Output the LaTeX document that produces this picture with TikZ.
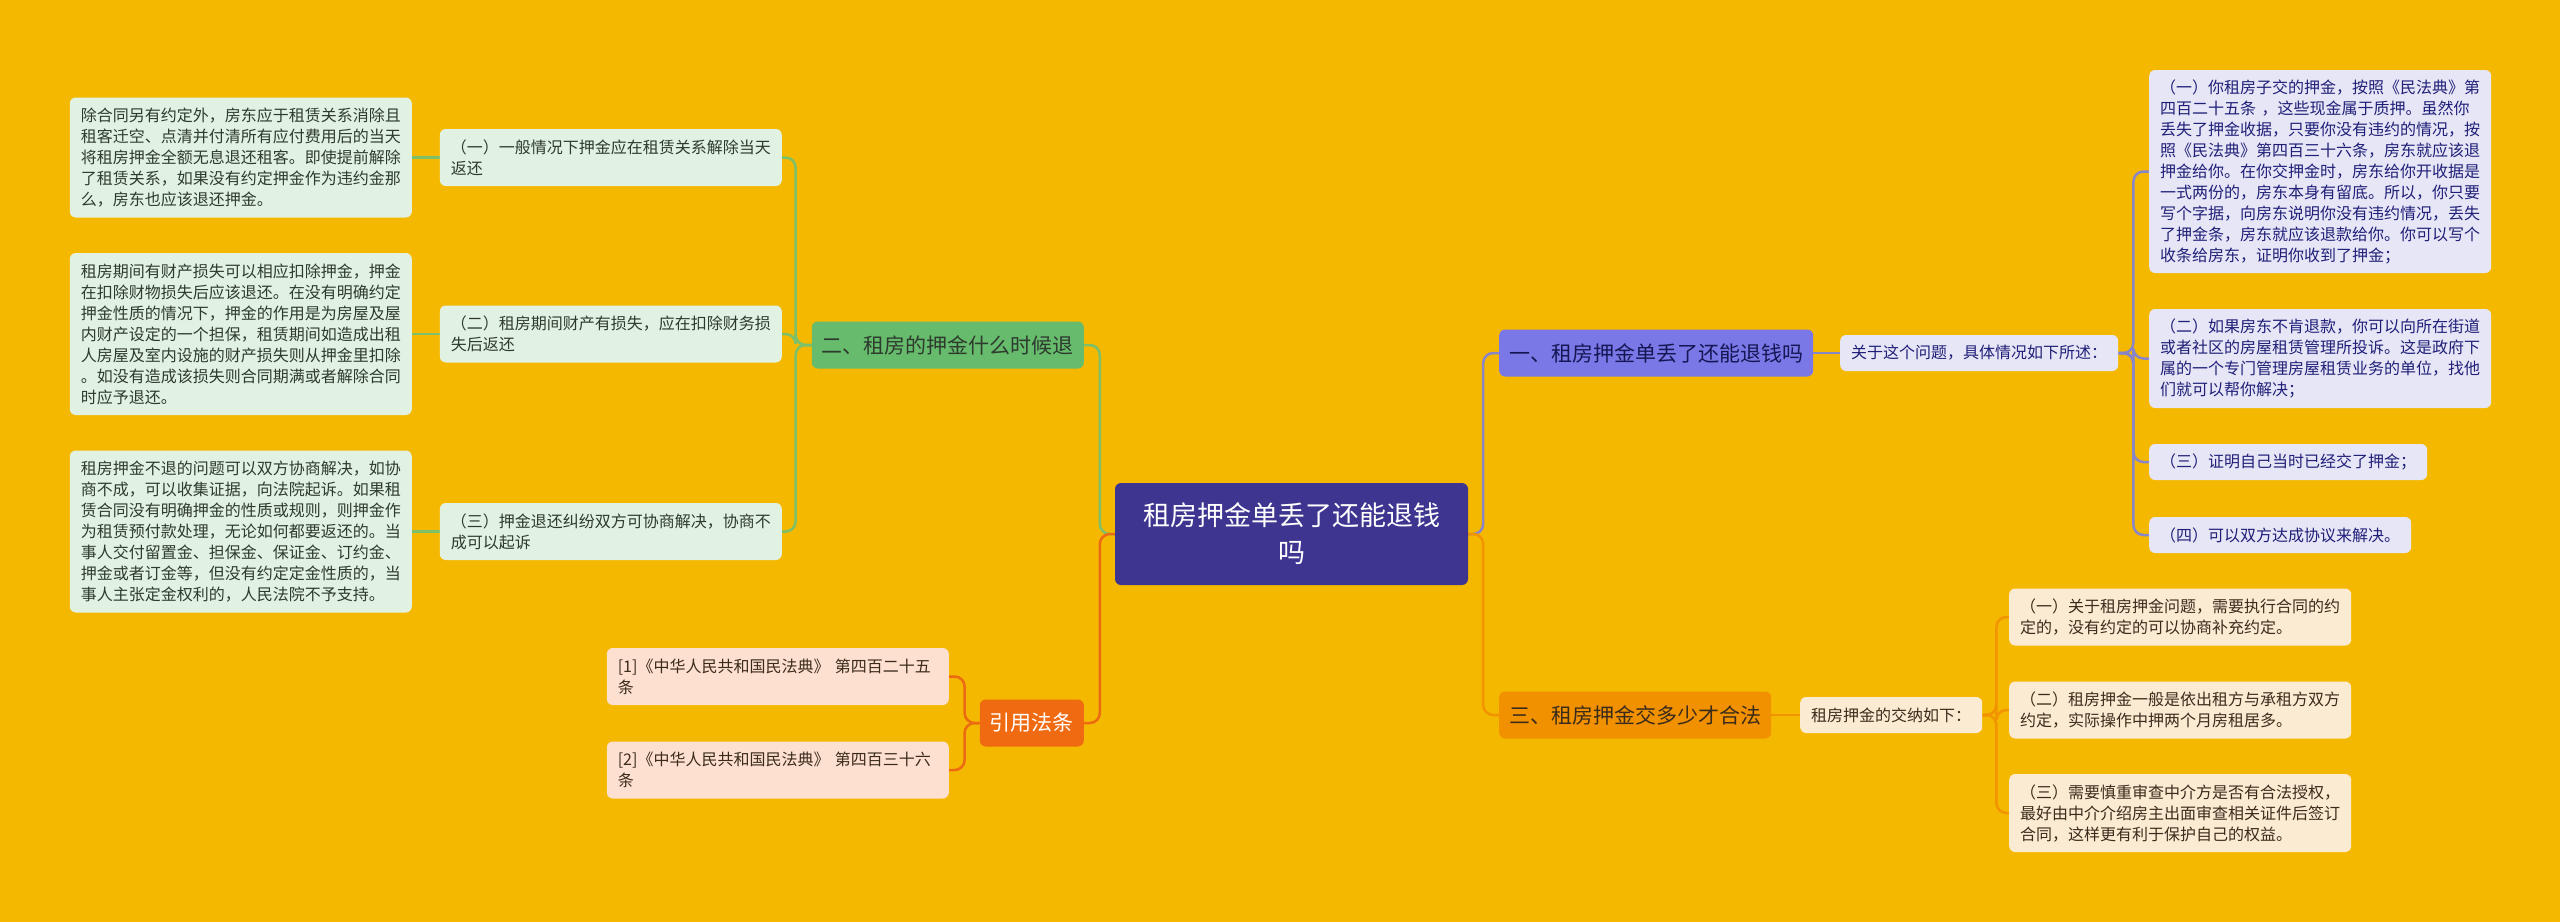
\documentclass[tikz,border=0pt]{standalone}
\usepackage{fontspec}
\usetikzlibrary{backgrounds}
\newfontfamily\cjk{Noto Sans CJK SC}
\definecolor{bg}{HTML}{F5B800}
\definecolor{rootfill}{HTML}{3D3590}
\definecolor{gfill}{HTML}{66BC6C}
\definecolor{gleaffill}{HTML}{E2F2E2}
\definecolor{gline}{HTML}{7CC16A}
\definecolor{gtext}{HTML}{2E3A2E}
\definecolor{pfill}{HTML}{7A78E6}
\definecolor{pleaffill}{HTML}{E7E6F7}
\definecolor{pline}{HTML}{8985C9}
\definecolor{ptext}{HTML}{1F1F78}
\definecolor{ofill}{HTML}{F29100}
\definecolor{oleaffill}{HTML}{FCEBD3}
\definecolor{oline}{HTML}{F29300}
\definecolor{otext}{HTML}{3B2B1B}
\definecolor{rfill}{HTML}{EF6A10}
\definecolor{rleaffill}{HTML}{FDE0D0}
\definecolor{rline}{HTML}{EB6A12}
\begin{document}
\begin{tikzpicture}[x=1pt,y=-1pt,
  base/.style={rounded corners=6pt, inner ysep=0pt, inner xsep=11pt, align=left,
    font=\cjk\fontsize{16}{21}\selectfont},
  wide/.style={text width=320pt},
  gleaf/.style={base, fill=gleaffill, text=gtext},
  pleaf/.style={base, fill=pleaffill, text=ptext},
  oleaf/.style={base, fill=oleaffill, text=otext},
  rleaf/.style={base, fill=rleaffill, text=otext},
  branch/.style={rounded corners=6pt, inner xsep=10pt, inner ysep=0pt, minimum height=47pt,
    font=\cjk\fontsize{21}{25}\selectfont},
  central/.style={rounded corners=6pt, fill=rootfill, text=white, align=center,
    text width=325pt, inner xsep=14pt, inner ysep=0pt, minimum height=102pt,
    font=\cjk\fontsize{27}{37}\selectfont},
  conn/.style={line width=2.5pt, rounded corners=10pt},
]
\useasboundingbox (0,0) rectangle (2560,922);

% root
\node[central] (root) at (1291.5,534) {租房押金单丢了还能退钱\\吗};

% left green branch
\node[branch, fill=gfill, text=gtext, anchor=east] (b2) at (1084,345) {二、租房的押金什么时候退};
\node[gleaf, wide, anchor=east, minimum height=57pt] (l1) at (782,157.5) {（一）一般情况下押金应在租赁关系解除当天\\返还};
\node[gleaf, wide, anchor=east, minimum height=120pt] (d1) at (412,157.5) {除合同另有约定外，房东应于租赁关系消除且\\租客迁空、点清并付清所有应付费用后的当天\\将租房押金全额无息退还租客。即使提前解除\\了租赁关系，如果没有约定押金作为违约金那\\么，房东也应该退还押金。};
\node[gleaf, wide, anchor=east, minimum height=57pt] (l2) at (782,334) {（二）租房期间财产有损失，应在扣除财务损\\失后返还};
\node[gleaf, wide, anchor=east, minimum height=162pt] (d2) at (412,334) {租房期间有财产损失可以相应扣除押金，押金\\在扣除财物损失后应该退还。在没有明确约定\\押金性质的情况下，押金的作用是为房屋及屋\\内财产设定的一个担保，租赁期间如造成出租\\人房屋及室内设施的财产损失则从押金里扣除\\。如没有造成该损失则合同期满或者解除合同\\时应予退还。};
\node[gleaf, wide, anchor=east, minimum height=57pt] (l3) at (782,531.5) {（三）押金退还纠纷双方可协商解决，协商不\\成可以起诉};
\node[gleaf, wide, anchor=east, minimum height=162pt] (d3) at (412,531.5) {租房押金不退的问题可以双方协商解决，如协\\商不成，可以收集证据，向法院起诉。如果租\\赁合同没有明确押金的性质或规则，则押金作\\为租赁预付款处理，无论如何都要返还的。当\\事人交付留置金、担保金、保证金、订约金、\\押金或者订金等，但没有约定定金性质的，当\\事人主张定金权利的，人民法院不予支持。};

% citation branch
\node[branch, fill=rfill, text=white, anchor=east] (cite) at (1084,723) {引用法条};
\node[rleaf, wide, anchor=east, minimum height=57pt] (c1) at (949,676.5) {[1]《中华人民共和国民法典》 第四百二十五\\条};
\node[rleaf, wide, anchor=east, minimum height=57pt] (c2) at (949,770) {[2]《中华人民共和国民法典》 第四百三十六\\条};

% right purple branch
\node[branch, fill=pfill, text=ptext!70!black, anchor=west] (b1) at (1499,353) {一、租房押金单丢了还能退钱吗};
\node[pleaf, anchor=west, minimum height=36pt] (r0) at (1840,353) {关于这个问题，具体情况如下所述：};
\node[pleaf, wide, anchor=west, minimum height=203pt] (r1) at (2149,171.5) {（一）你租房子交的押金，按照《民法典》第\\四百二十五条 ，这些现金属于质押。虽然你\\丢失了押金收据，只要你没有违约的情况，按\\照《民法典》第四百三十六条，房东就应该退\\押金给你。在你交押金时，房东给你开收据是\\一式两份的，房东本身有留底。所以，你只要\\写个字据，向房东说明你没有违约情况，丢失\\了押金条，房东就应该退款给你。你可以写个\\收条给房东，证明你收到了押金；};
\node[pleaf, wide, anchor=west, minimum height=99pt] (r2) at (2149,358.5) {（二）如果房东不肯退款，你可以向所在街道\\或者社区的房屋租赁管理所投诉。这是政府下\\属的一个专门管理房屋租赁业务的单位，找他\\们就可以帮你解决；};
\node[pleaf, anchor=west, minimum height=36pt] (r3) at (2149,462) {（三）证明自己当时已经交了押金；};
\node[pleaf, anchor=west, minimum height=36pt] (r4) at (2149,535) {（四）可以双方达成协议来解决。};

% right orange branch
\node[branch, fill=ofill, text=otext, anchor=west] (b3) at (1499,715) {三、租房押金交多少才合法};
\node[oleaf, anchor=west, minimum height=36pt] (s0) at (1800,715) {租房押金的交纳如下：};
\node[oleaf, wide, anchor=west, minimum height=57pt] (s1) at (2009,617) {（一）关于租房押金问题，需要执行合同的约\\定的，没有约定的可以协商补充约定。};
\node[oleaf, wide, anchor=west, minimum height=57pt] (s2) at (2009,710) {（二）租房押金一般是依出租方与承租方双方\\约定，实际操作中押两个月房租居多。};
\node[oleaf, wide, anchor=west, minimum height=78pt] (s3) at (2009,813) {（三）需要慎重审查中介方是否有合法授权，\\最好由中介介绍房主出面审查相关证件后签订\\合同，这样更有利于保护自己的权益。};

% background and connectors (behind the boxes)
\begin{scope}[on background layer]
\fill[bg] (0,0) rectangle (2560,922);

\draw[conn, draw=pline] (root.east) -- ++(15,0) |- (b1.west);
\draw[conn, draw=oline] (root.east) -- ++(15,0) |- (b3.west);
\draw[conn, draw=gline] (root.west) -- ++(-15,0) |- (b2.east);
\draw[conn, draw=rline] (root.west) -- ++(-15,0) |- (cite.east);

\draw[conn, draw=gline] (b2.west) -- ++(-16,0) |- (l1.east);
\draw[conn, draw=gline] (b2.west) -- ++(-16,0) |- (l2.east);
\draw[conn, draw=gline] (b2.west) -- ++(-16,0) |- (l3.east);
\draw[conn, draw=gline] (l1.west) -- (d1.east);
\draw[conn, draw=gline] (l2.west) -- (d2.east);
\draw[conn, draw=gline] (l3.west) -- (d3.east);

\draw[conn, draw=rline] (cite.west) -- ++(-15,0) |- (c1.east);
\draw[conn, draw=rline] (cite.west) -- ++(-15,0) |- (c2.east);

\draw[conn, draw=pline] (b1.east) -- (r0.west);
\draw[conn, draw=pline] (r0.east) -- ++(15,0) |- (r1.west);
\draw[conn, draw=pline] (r0.east) -- ++(15,0) |- (r2.west);
\draw[conn, draw=pline] (r0.east) -- ++(15,0) |- (r3.west);
\draw[conn, draw=pline] (r0.east) -- ++(15,0) |- (r4.west);

\draw[conn, draw=oline] (b3.east) -- (s0.west);
\draw[conn, draw=oline] (s0.east) -- ++(14,0) |- (s1.west);
\draw[conn, draw=oline] (s0.east) -- ++(14,0) |- (s2.west);
\draw[conn, draw=oline] (s0.east) -- ++(14,0) |- (s3.west);
\end{scope}
\end{tikzpicture}
\end{document}
